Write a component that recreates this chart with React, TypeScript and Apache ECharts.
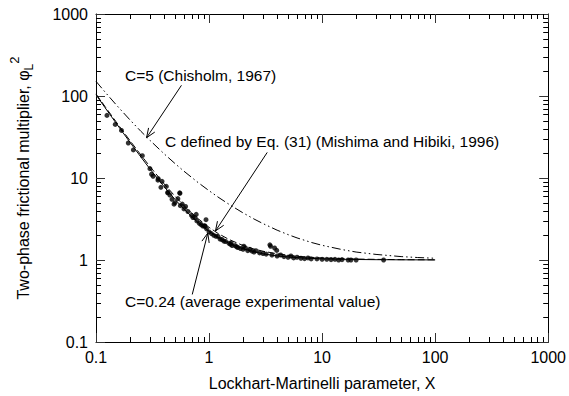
import React, { useEffect, useRef } from "react";
import * as echarts from "echarts";

const FONT = '"Liberation Sans", Arial, sans-serif';

// Curve abscissas (X) and values
const curveX = [0.1, 0.12, 0.15, 0.2, 0.25, 0.3, 0.4, 0.5, 0.6, 0.7, 0.8, 1, 1.2, 1.5, 2, 2.5, 3, 4, 5, 6, 8, 10, 15, 20, 30, 50, 70, 100];
const chisholmC5 = [151, 112.1, 78.8, 51, 37, 28.8, 19.75, 15, 12.1, 10.2, 8.8, 7, 5.86, 4.78, 3.75, 3.16, 2.78, 2.31, 2.04, 1.86, 1.64, 1.51, 1.34, 1.25, 1.17, 1.1, 1.072, 1.05];
const avgC024 = [103.4, 72.4, 47.0, 27.2, 17.96, 12.9, 7.85, 5.48, 4.18, 3.38, 2.86, 2.24, 1.89, 1.6, 1.37, 1.26, 1.19, 1.12, 1.09, 1.07, 1.046, 1.034, 1.02, 1.0145, 1.009, 1.005, 1.004, 1.0025];
const mishimaHibiki = [106, 74.6, 48.8, 28.5, 19, 13.8, 8.5, 6, 4.61, 3.75, 3.19, 2.5, 2.11, 1.78, 1.5, 1.36, 1.28, 1.19, 1.14, 1.11, 1.078, 1.06, 1.038, 1.0275, 1.018, 1.0104, 1.0073, 1.005];

// Experimental data points
const expX = [0.125, 0.148, 0.168, 0.193, 0.214, 0.257, 0.3, 0.31, 0.32, 0.353, 0.355, 0.384, 0.375, 0.419, 0.43, 0.433, 0.45, 0.47, 0.49, 0.5, 0.53, 0.55, 0.553, 0.557, 0.58, 0.6, 0.62, 0.65, 0.7, 0.72, 0.75, 0.77, 0.78, 0.82, 0.85, 0.88, 0.91, 0.92, 0.94, 0.95, 1.0, 1.05, 1.1, 1.15, 1.2, 1.25, 1.3, 1.35, 1.4, 1.5, 1.55, 1.57, 1.6, 1.7, 1.75, 1.8, 1.9, 2.0, 2.03, 2.1, 2.2, 2.3, 2.4, 2.5, 2.6, 2.8, 3.0, 3.2, 3.45, 3.5, 3.6, 3.8, 3.97, 4.0, 4.3, 4.6, 5.0, 5.3, 5.6, 6.0, 6.5, 7.0, 7.5, 8.0, 9.0, 10, 11, 12, 13, 14, 15, 17, 18, 20, 35];
const expY = [58, 45, 38, 26.7, 22, 18.7, 13, 11.1, 10.5, 9.4, 9.8, 9.1, 7.7, 7.9, 6.6, 6.7, 6.2, 5.5, 4.8, 5.0, 5.6, 6.6, 6.5, 4.6, 4.8, 4.2, 4.5, 3.9, 3.5, 3.3, 3.3, 3.6, 3.0, 2.8, 2.7, 2.6, 2.6, 2.6, 3.1, 2.4, 2.2, 2.1, 2.0, 1.95, 1.94, 1.8, 1.78, 1.7, 1.68, 1.6, 1.55, 1.6, 1.5, 1.5, 1.45, 1.42, 1.38, 1.35, 1.47, 1.4, 1.3, 1.35, 1.28, 1.25, 1.3, 1.22, 1.2, 1.18, 1.53, 1.47, 1.15, 1.4, 1.31, 1.12, 1.15, 1.1, 1.08, 1.12, 1.06, 1.08, 1.05, 1.04, 1.06, 1.03, 1.03, 1.02, 1.02, 1.01, 1.02, 1.0, 1.01, 1.0, 1.0, 1.0, 1.0];

// Axis ticks
const majorTicks = [0.1, 1, 10, 100, 1000];
const minorTicks = [0.2, 0.3, 0.4, 0.5, 0.6, 0.7, 0.8, 0.9, 2, 3, 4, 5, 6, 7, 8, 9, 20, 30, 40, 50, 60, 70, 80, 90, 200, 300, 400, 500, 600, 700, 800, 900];

// Annotations (arrow start/end in data coordinates)
const annotations = [
  { text: "C=5 (Chisholm, 1967)", tx: 125, ty: 75, from: [0.57, 135], to: [0.28, 31] },
  { text: "C defined by Eq. (31) (Mishima and Hibiki, 1996)", tx: 165, ty: 141, from: [3.27, 20.5], to: [1.14, 2.26] },
  { text: "C=0.24 (average experimental value)", tx: 125, ty: 301, from: [0.71, 0.38], to: [0.975, 2.13] },
];

const MINOR_LEN = 5;

export default function App() {
  const ref = useRef<HTMLDivElement>(null);
  useEffect(() => {
    if (!ref.current) return;
    const chart = echarts.init(ref.current, undefined, { renderer: "svg" });
    const axisCommon = {
      type: "log" as const,
      logBase: 10,
      min: 0.1,
      max: 1000,
      splitLine: { show: false },
      axisLine: { show: true, lineStyle: { color: "#000", width: 1 } },
      axisTick: { show: true, inside: true, length: 9, lineStyle: { color: "#333", width: 1 } },
    };
    const tickStyle = { stroke: "#000", lineWidth: 1 };
    const fmt = (v: number) => String(majorTicks.find((t) => Math.abs(Math.log10(t) - Math.log10(v)) < 1e-6) ?? v);
    chart.setOption({
      animation: false,
      backgroundColor: "#fff",
      grid: { left: 91, right: 14, top: 14, bottom: 52, containLabel: false },
      xAxis: [
        {
          ...axisCommon,
          position: "bottom",
          name: "Lockhart-Martinelli parameter, X",
          nameLocation: "middle",
          nameGap: 33,
          nameTextStyle: { fontFamily: FONT, fontSize: 16, color: "#000" },
          axisLabel: { show: true, margin: 7, fontFamily: FONT, fontSize: 16, color: "#000", formatter: fmt },
        },
        { ...axisCommon, position: "top", axisLabel: { show: false } },
      ],
      yAxis: [
        {
          ...axisCommon,
          position: "left",
          name: "{t|Two-phase frictional multiplier, φ}{sub|L}{sup|2}",
          nameLocation: "middle",
          nameGap: 58,
          nameRotate: 90,
          nameTextStyle: {
            fontFamily: FONT,
            color: "#000",
            rich: {
              t: { fontFamily: FONT, fontSize: 16, color: "#000", lineHeight: 30, verticalAlign: "middle" },
              sub: { fontFamily: FONT, fontSize: 12, color: "#000", lineHeight: 30, verticalAlign: "bottom", padding: [0, 0, 3, 0] },
              sup: { fontFamily: FONT, fontSize: 13, color: "#000", lineHeight: 30, verticalAlign: "top" },
            },
          },
          axisLabel: { show: true, margin: 8, fontFamily: FONT, fontSize: 16, color: "#000", formatter: fmt },
        },
        { ...axisCommon, position: "right", axisLabel: { show: false } },
      ],
      series: [
        {
          type: "custom",
          name: "xMinor",
          coordinateSystem: "cartesian2d",
          silent: true,
          data: minorTicks.map((v) => [v, 1]),
          renderItem: (params: any, api: any) => {
            const cs = params.coordSys;
            const px = Math.round(api.coord([api.value(0), 1])[0]) + 0.5;
            const yb = cs.y + cs.height;
            return {
              type: "group",
              children: [
                { type: "line", shape: { x1: px, y1: yb, x2: px, y2: yb - MINOR_LEN }, style: tickStyle },
                { type: "line", shape: { x1: px, y1: cs.y, x2: px, y2: cs.y + MINOR_LEN }, style: tickStyle },
              ],
            };
          },
        },
        {
          type: "custom",
          name: "yMinor",
          coordinateSystem: "cartesian2d",
          silent: true,
          data: minorTicks.map((v) => [1, v]),
          renderItem: (params: any, api: any) => {
            const cs = params.coordSys;
            const py = Math.round(api.coord([1, api.value(1)])[1]) + 0.5;
            const xr = cs.x + cs.width;
            return {
              type: "group",
              children: [
                { type: "line", shape: { x1: cs.x, y1: py, x2: cs.x + MINOR_LEN, y2: py }, style: tickStyle },
                { type: "line", shape: { x1: xr, y1: py, x2: xr - MINOR_LEN, y2: py }, style: tickStyle },
              ],
            };
          },
        },
        {
          type: "line",
          name: "C=5",
          showSymbol: false,
          symbol: "none",
          data: curveX.map((x, i) => [x, chisholmC5[i]]),
          lineStyle: { color: "#000", width: 1, type: [9, 3, 1.5, 3, 1.5, 3] },
        },
        {
          type: "line",
          name: "C=0.24",
          showSymbol: false,
          symbol: "none",
          data: curveX.map((x, i) => [x, avgC024[i]]),
          lineStyle: { color: "#000", width: 1, type: "solid" },
        },
        {
          type: "line",
          name: "Mishima-Hibiki",
          showSymbol: false,
          symbol: "none",
          data: curveX.map((x, i) => [x, mishimaHibiki[i]]),
          lineStyle: { color: "#000", width: 1, type: [7, 3] },
        },
        {
          type: "scatter",
          name: "data",
          symbol: "circle",
          symbolSize: 5,
          itemStyle: { color: "#000" },
          data: expX.map((x, i) => [x, expY[i]]),
        },
      ],
    });

    const graphics: any[] = [];
    annotations.forEach((a) => {
      graphics.push({
        type: "text",
        x: a.tx,
        y: a.ty,
        style: { text: a.text, font: `15.5px ${FONT}`, fill: "#000", textAlign: "left", textVerticalAlign: "middle", align: "left", verticalAlign: "middle" },
      });
      const s = chart.convertToPixel({ gridIndex: 0 }, a.from) as number[];
      const e = chart.convertToPixel({ gridIndex: 0 }, a.to) as number[];
      if (!s || !e) return;
      const dx = e[0] - s[0];
      const dy = e[1] - s[1];
      const len = Math.hypot(dx, dy) || 1;
      const ux = dx / len;
      const uy = dy / len;
      const hl = 10;
      const ang = (22 * Math.PI) / 180;
      const rot = (t: number) => [-(ux * Math.cos(t) - uy * Math.sin(t)), -(ux * Math.sin(t) + uy * Math.cos(t))];
      const h1 = rot(ang);
      const h2 = rot(-ang);
      const st = { stroke: "#000", lineWidth: 1, fill: "none" };
      graphics.push({ type: "line", shape: { x1: s[0], y1: s[1], x2: e[0], y2: e[1] }, style: st });
      graphics.push({ type: "line", shape: { x1: e[0], y1: e[1], x2: e[0] + h1[0] * hl, y2: e[1] + h1[1] * hl }, style: st });
      graphics.push({ type: "line", shape: { x1: e[0], y1: e[1], x2: e[0] + h2[0] * hl, y2: e[1] + h2[1] * hl }, style: st });
    });
    chart.setOption({ graphic: graphics });

    return () => chart.dispose();
  }, []);
  return <div ref={ref} style={{ width: 569, height: 396, position: "absolute", left: 0, top: 0 }} />;
}
